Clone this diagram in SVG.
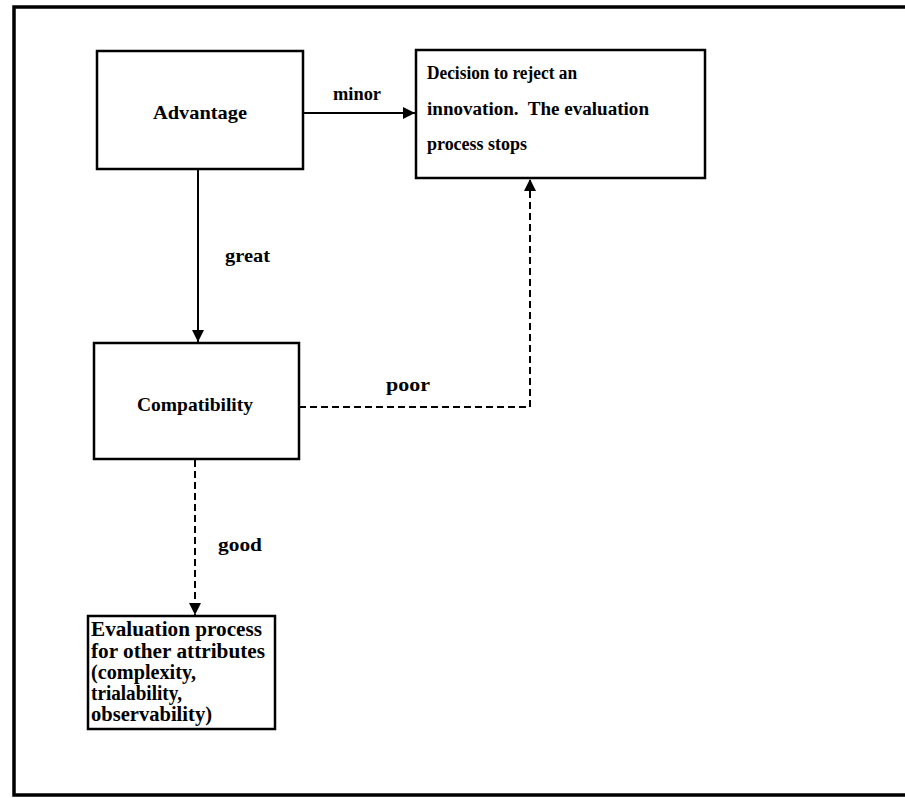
<svg xmlns="http://www.w3.org/2000/svg" width="905" height="798" viewBox="0 0 905 798">
<defs>
<marker id="ah" viewBox="0 0 10 10" refX="10" refY="5" markerWidth="12" markerHeight="12" markerUnits="userSpaceOnUse" orient="auto">
<path d="M0,0 L10,5 L0,10 z" fill="#000"/>
</marker>
<style>
.box{fill:#fff;stroke:#000;stroke-width:2.5}
.t{font-family:"Liberation Serif","Times New Roman",serif;font-size:19px;font-weight:bold;fill:#000}
.e{font-size:20px}
.d{font-size:18px}
.c{text-anchor:middle}
.solid{fill:none;stroke:#000;stroke-width:2}
.dash{fill:none;stroke:#000;stroke-width:2;stroke-dasharray:7,4}
</style>
</defs>
<rect x="0" y="0" width="905" height="798" fill="#fff"/>
<g id="frame">
<path d="M905,7 L14,7 L14,795 L905,795" fill="none" stroke="#000" stroke-width="3.5"/>
</g>
<g id="connectors">
<line class="solid" x1="303" y1="113" x2="415" y2="113" marker-end="url(#ah)"/>
<line class="solid" x1="198" y1="170" x2="198" y2="342" marker-end="url(#ah)"/>
<path class="dash" d="M299,407 L530,407 L530,179" marker-end="url(#ah)"/>
<line class="dash" x1="195" y1="460" x2="195" y2="615" marker-end="url(#ah)"/>
<text class="t" x="333" y="100" textLength="48" lengthAdjust="spacingAndGlyphs">minor</text>
<text class="t" x="225" y="262" textLength="45" lengthAdjust="spacingAndGlyphs">great</text>
<text class="t" x="386" y="391" textLength="44" lengthAdjust="spacingAndGlyphs">poor</text>
<text class="t" x="218" y="551" textLength="44" lengthAdjust="spacingAndGlyphs">good</text>
</g>
<g id="advantage">
<rect class="box" x="97" y="51" width="206" height="118"/>
<text class="t" x="153" y="119" textLength="94" lengthAdjust="spacingAndGlyphs">Advantage</text>
</g>
<g id="decision">
<rect class="box" x="416" y="50" width="289" height="128"/>
<text class="t d" x="427" y="79" textLength="150" lengthAdjust="spacingAndGlyphs">Decision to reject an</text>
<text class="t d" x="427" y="115" textLength="222" lengthAdjust="spacingAndGlyphs" xml:space="preserve">innovation.  The evaluation</text>
<text class="t d" x="427" y="150" textLength="100" lengthAdjust="spacingAndGlyphs">process stops</text>
</g>
<g id="compatibility">
<rect class="box" x="94" y="343" width="205" height="116"/>
<text class="t" x="137" y="411" textLength="116" lengthAdjust="spacingAndGlyphs">Compatibility</text>
</g>
<g id="evaluation">
<rect class="box" x="88" y="616" width="187" height="113"/>
<text class="t e" x="91" y="636" textLength="171" lengthAdjust="spacingAndGlyphs">Evaluation process</text>
<text class="t e" x="91" y="658" textLength="174" lengthAdjust="spacingAndGlyphs">for other attributes</text>
<text class="t e" x="91" y="679" textLength="105" lengthAdjust="spacingAndGlyphs">(complexity,</text>
<text class="t e" x="91" y="700" textLength="91" lengthAdjust="spacingAndGlyphs">trialability,</text>
<text class="t e" x="91" y="721" textLength="121" lengthAdjust="spacingAndGlyphs">observability)</text>
</g>
</svg>
